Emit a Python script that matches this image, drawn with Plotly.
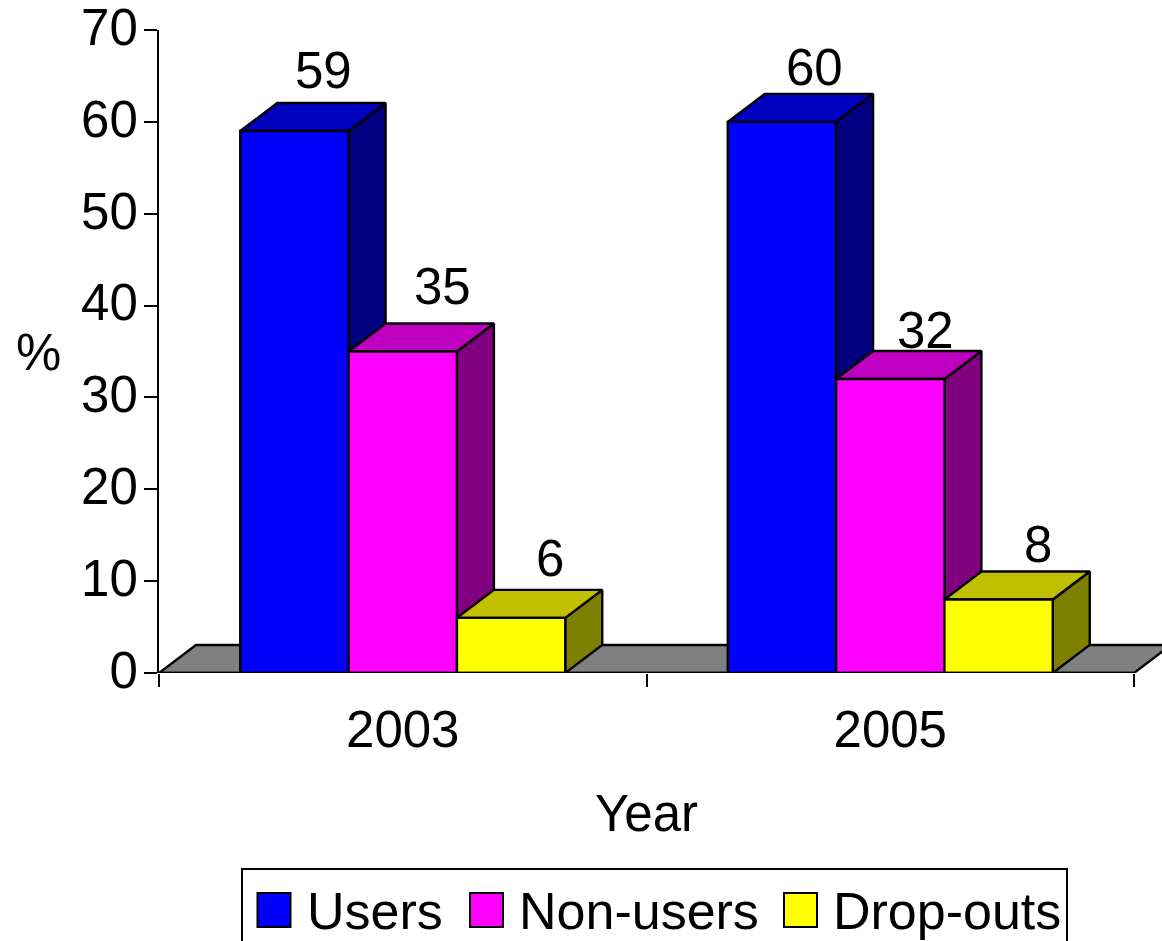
import plotly.graph_objects as go

years = ["2003", "2005"]
series_names = ["Users", "Non-users", "Drop-outs"]
users = [59, 60]
non_users = [35, 32]
drop_outs = [6, 8]
y_ticks = [0, 10, 20, 30, 40, 50, 60, 70]

front_colors = ["#0000FF", "#FF00FF", "#FFFF00"]
top_colors = ["#0000C0", "#C000C0", "#C0C000"]
side_colors = ["#000080", "#800080", "#808000"]
floor_color = "#808080"

W, H = 1162, 941
L, T, B = 159, 30, 268
PX_X = 487.5            # pixels per category
PX_Y = (H - T - B) / 70 # pixels per percent
DX = 37 / PX_X          # depth offset in x units
DY = 28 / PX_Y          # depth offset in y units
BAR_W = 2 / 3 / 3
FONT = "Liberation Sans"
FS = 51
LEGEND_FS = 52

series_vals = [users, non_users, drop_outs]
cat_pos = [i + 0.5 for i in range(len(years))]

fig = go.Figure()


def poly(xs, ys, color):
    fig.add_trace(go.Scatter(
        x=xs + xs[:1], y=ys + ys[:1], mode="lines", fill="toself", fillcolor=color,
        line=dict(color="black", width=2.4), hoverinfo="skip", showlegend=False,
    ))


# floor
poly([0, DX, 2 + DX, 2], [0, DY, DY, 0], floor_color)

# depth faces, back to front
for c, _ in enumerate(years):
    for s, vals in enumerate(series_vals):
        v = vals[c]
        x0 = cat_pos[c] - 1.5 * BAR_W + s * BAR_W
        x1 = x0 + BAR_W
        poly([x1, x1 + DX, x1 + DX, x1], [0, DY, v + DY, v], side_colors[s])
        poly([x0, x0 + DX, x1 + DX, x1], [v, v + DY, v + DY, v], top_colors[s])

# front faces on an overlay axis pair so they sit above the depth faces
for s, vals in enumerate(series_vals):
    fig.add_trace(go.Bar(
        x=cat_pos, y=vals, name=series_names[s], xaxis="x2", yaxis="y2",
        marker=dict(color=front_colors[s], line=dict(color="black", width=2.4)),
        showlegend=False,
    ))

# base line of the category axis
fig.add_trace(go.Scatter(x=[0, 2], y=[0, 0], mode="lines", xaxis="x2", yaxis="y2",
                         line=dict(color="black", width=2.5), hoverinfo="skip",
                         showlegend=False, cliponaxis=False))

x_range = [0, (W - L) / PX_X]
y_range = [0, 70]

# per-label pixel nudges from the bar top-centre
label_dx = [[29, 40, 39], [33, 35, 39]]
label_dy = [[61, 65, 59], [54, 49, 55]]
annotations = []
for c, _ in enumerate(years):
    for s, vals in enumerate(series_vals):
        annotations.append(dict(
            x=cat_pos[c] - BAR_W + s * BAR_W, y=vals[c], xref="x2", yref="y2",
            text=str(vals[c]), showarrow=False, xanchor="center", yanchor="middle",
            xshift=label_dx[c][s], yshift=label_dy[c][s],
            font=dict(family=FONT, size=FS, color="black"),
        ))


def px(p):
    return (p - L) / (W - L)


def py(p):
    return (H - B - p) / (H - T - B)


shapes = [dict(type="rect", xref="paper", yref="paper", x0=px(242), x1=px(1067),
               y0=py(869), y1=py(960), line=dict(color="black", width=2),
               fillcolor="white", layer="above")]
swatch_x = [257.5, 470, 784]
text_x = [305, 517, 831]
for s, name in enumerate(series_names):
    shapes.append(dict(type="rect", xref="paper", yref="paper", x0=px(swatch_x[s]),
                       x1=px(swatch_x[s] + 33), y0=py(893), y1=py(927),
                       fillcolor=front_colors[s], line=dict(color="black", width=2),
                       layer="above"))
    annotations.append(dict(x=px(text_x[s]), y=py(911), xref="paper", yref="paper",
                            text=name, showarrow=False, xanchor="left", yanchor="middle",
                            font=dict(family=FONT, size=LEGEND_FS, color="black")))

annotations.append(dict(x=px(38), y=py(352), xref="paper", yref="paper", text="%",
                        xanchor="center", yanchor="middle", showarrow=False,
                        font=dict(family=FONT, size=FS, color="black")))
annotations.append(dict(x=px(646), y=py(813), xref="paper", yref="paper", text="Year",
                        xanchor="center", yanchor="middle", showarrow=False,
                        font=dict(family=FONT, size=FS, color="black")))

fig.update_layout(
    width=W, height=H, margin=dict(l=L, r=0, t=T, b=B, pad=0),
    paper_bgcolor="white", plot_bgcolor="white", showlegend=False,
    barmode="group", bargap=1 / 3, bargroupgap=0,
    shapes=shapes, annotations=annotations,
    font=dict(family=FONT, size=FS, color="black"),
    xaxis=dict(range=x_range, tickvals=cat_pos, ticktext=years, ticks="",
               ticklabelstandoff=22, showgrid=False, zeroline=False, showline=False,
               minor=dict(tickvals=[0, 1, 2], ticks="outside", ticklen=13, tickwidth=2,
                          tickcolor="black", showgrid=False),
               tickfont=dict(family=FONT, size=FS, color="black")),
    yaxis=dict(range=y_range, tickvals=y_ticks, ticks="outside", ticklen=13, tickwidth=2,
               tickcolor="black", showgrid=False, zeroline=False, showline=True,
               linecolor="black", linewidth=2, ticklabelstandoff=-4, ticklabelshift=-3,
               ticklabeloverflow="allow",
               tickfont=dict(family=FONT, size=FS, color="black")),
    xaxis2=dict(range=x_range, overlaying="x", matches="x", visible=False),
    yaxis2=dict(range=y_range, overlaying="y", matches="y", visible=False),
)

fig.write_html("out.html", config={"displayModeBar": False},
               post_script="document.body.style.margin='0';document.body.style.overflow='hidden';")
